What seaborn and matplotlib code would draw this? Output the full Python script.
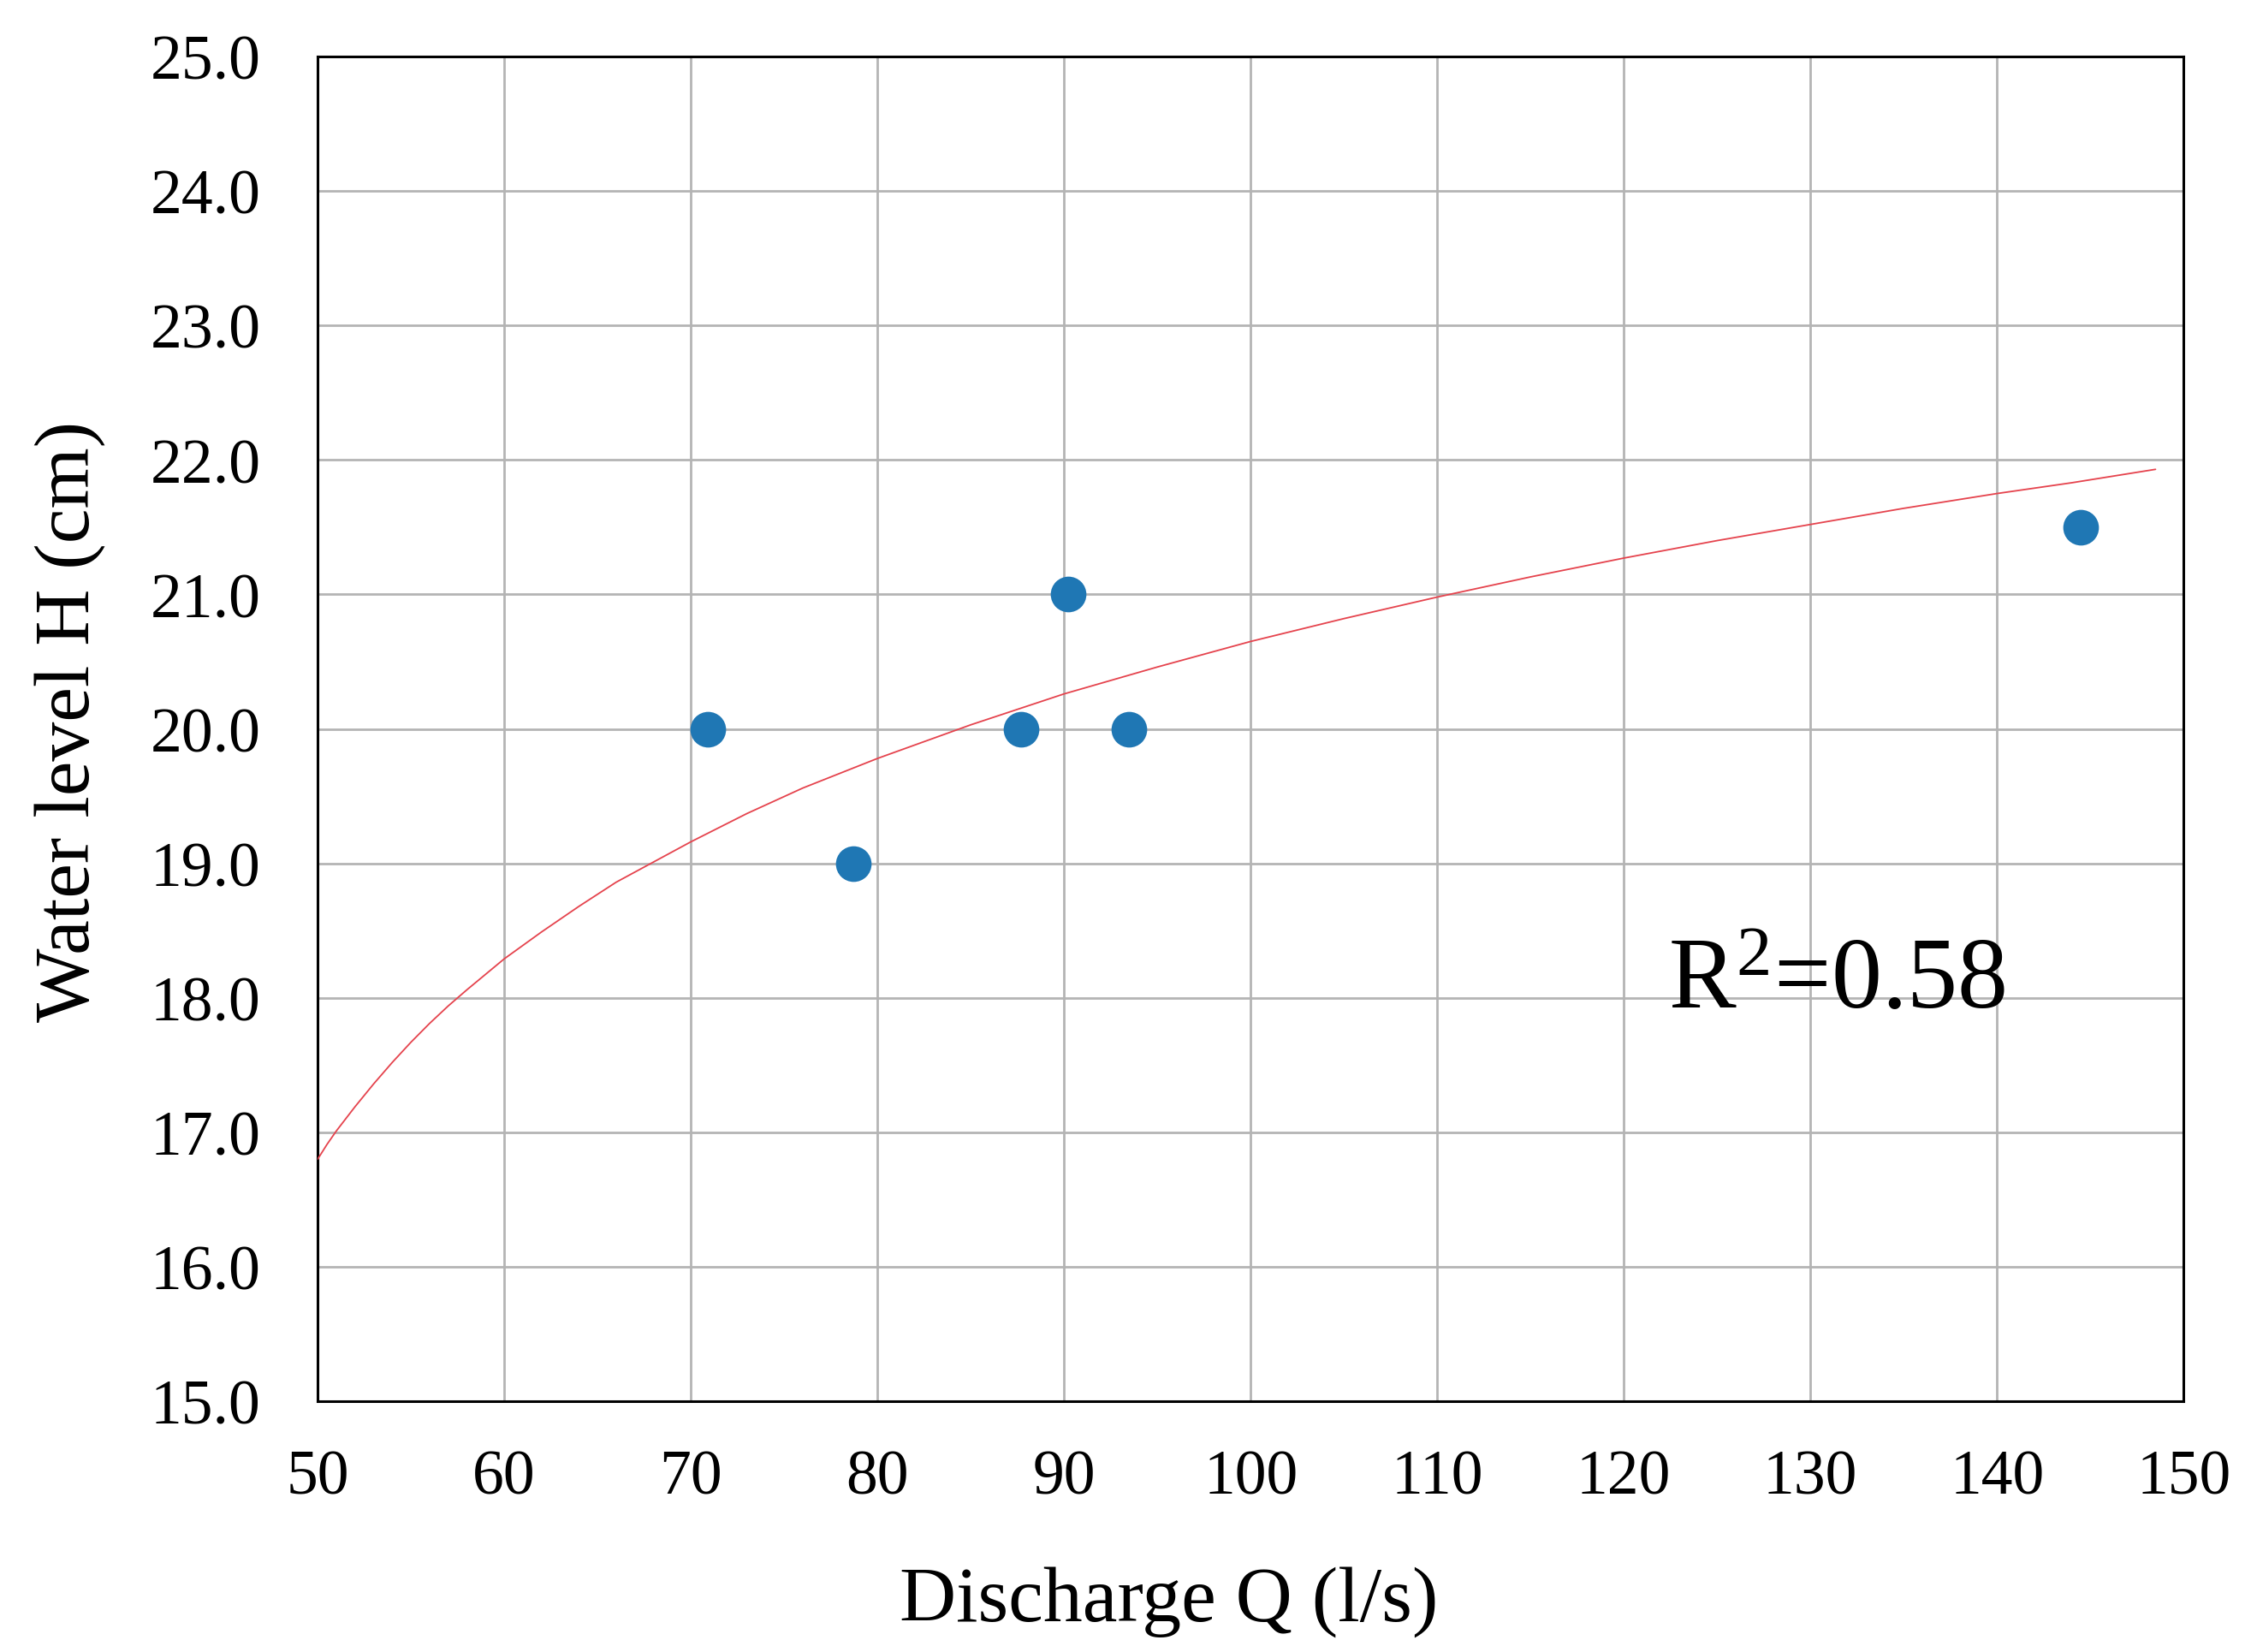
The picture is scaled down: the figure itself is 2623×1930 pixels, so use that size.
import matplotlib
matplotlib.use("Agg")
import matplotlib.pyplot as plt
import seaborn as sns
import pandas as pd

# Observed points
discharge_q = [70.9, 78.7, 87.7, 90.2, 93.5, 144.5]
water_level_h = [20.0, 19.0, 20.0, 21.0, 20.0, 21.5]

# Fitted trend curve
curve_q = [50, 50.5, 51, 51.5, 52, 53, 54, 55, 56, 57, 58, 60, 62, 64, 66, 68, 70, 73, 76,
           80, 85, 90, 95, 100, 105, 110, 115, 120, 125, 130, 135, 140, 144, 148.5]
curve_h = [16.80, 16.91, 17.01, 17.10, 17.19, 17.36, 17.52, 17.67, 17.81, 17.94, 18.06,
           18.29, 18.49, 18.68, 18.86, 19.01, 19.16, 19.37, 19.56, 19.78, 20.03, 20.26,
           20.46, 20.65, 20.82, 20.98, 21.13, 21.27, 21.40, 21.52, 21.64, 21.75, 21.83, 21.93]

x_ticks = [50, 60, 70, 80, 90, 100, 110, 120, 130, 140, 150]
y_ticks = [15.0, 16.0, 17.0, 18.0, 19.0, 20.0, 21.0, 22.0, 23.0, 24.0, 25.0]

r2_text = r"R$^2$=0.58"

sns.set_theme(style="whitegrid")
plt.rcParams['font.family'] = ['Liberation Serif', 'DejaVu Serif']
plt.rcParams['mathtext.fontset'] = 'custom'
plt.rcParams['mathtext.rm'] = 'Liberation Serif'
plt.rcParams['mathtext.it'] = 'Liberation Serif'
plt.rcParams['mathtext.default'] = 'rm'

pts = pd.DataFrame({"Q": discharge_q, "H": water_level_h})
crv = pd.DataFrame({"Q": curve_q, "H": curve_h})

fig = plt.figure(figsize=(26.23, 19.31), dpi=100)
ax = fig.add_axes([0.1415, 0.1517, 0.8311, 0.8136])

sns.lineplot(data=crv, x="Q", y="H", ax=ax, color="#e5434d", linewidth=1.3, zorder=3)
sns.scatterplot(data=pts, x="Q", y="H", ax=ax, color="#1f77b4", s=900, linewidth=0, zorder=4)

ax.set_xlim(50, 150)
ax.set_ylim(15, 25)
ax.set_xticks(x_ticks)
ax.set_xticklabels([str(v) for v in x_ticks])
ax.set_yticks(y_ticks)
ax.set_yticklabels([f"{v:.1f}" for v in y_ticks])

ax.grid(True, color="#b4b4b4", linewidth=2.0)
ax.set_axisbelow(True)
for s in ax.spines.values():
    s.set_visible(True)
    s.set_color("black")
    s.set_linewidth(2.2)

ax.tick_params(axis="both", length=0, labelsize=53, colors="black")
ax.tick_params(axis="x", pad=40)
ax.tick_params(axis="y", pad=48)

ax.set_xlabel("Discharge Q (l/s)", fontsize=66, color="black")
ax.set_ylabel("Water level H (cm)", fontsize=66, color="black")
ax.xaxis.set_label_coords(0.456, -0.122)
ax.yaxis.set_label_coords(-0.114, 0.506)

ax.text(122.4, 17.93, r2_text, fontsize=85, color="black", ha="left", va="baseline")

fig.savefig("out.png", dpi=100, facecolor="white")
